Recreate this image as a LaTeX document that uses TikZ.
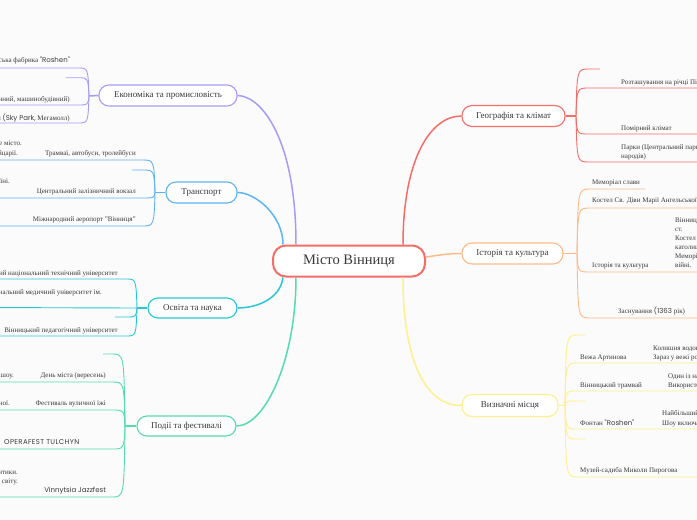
\documentclass[tikz,border=0pt]{standalone}
\usepackage{fontspec}
\setmainfont{Liberation Serif}
\newfontfamily\pop{Poppins}
\definecolor{bg}{HTML}{FBFBFB}
\definecolor{txt}{HTML}{3A3A3A}
\definecolor{cred}{HTML}{F66D68}
\definecolor{cpur}{HTML}{A59CF8}
\definecolor{cblu}{HTML}{5EB4F3}
\definecolor{ccya}{HTML}{27C8D6}
\definecolor{cgrn}{HTML}{55DCAB}
\definecolor{cora}{HTML}{FFBA88}
\definecolor{cyel}{HTML}{FFF08C}
\begin{document}
\begin{tikzpicture}[x=1pt,y=-1pt,
  centerbox/.style={draw=cred,line width=2pt,fill=white,rounded corners=13pt,minimum width=152pt,minimum height=31pt,font=\fontsize{14.5}{16}\selectfont,text=txt},
  branchbox/.style={line width=1.1pt,fill=white,rounded corners=10pt,font=\fontsize{9}{10}\selectfont,text=txt,inner sep=0pt},
  mainline/.style={line width=1.5pt},
  leafline/.style={line width=0.9pt},
  lt/.style={font=\fontsize{7}{8}\selectfont,text=txt,inner sep=0pt},
  ltl/.style={lt,anchor=base east},
  ltr/.style={lt,anchor=base west},
  popt/.style={font=\pop\fontsize{7}{8}\selectfont}]
\clip (0,0) rectangle (697,520);
\fill[bg] (0,0) rectangle (697,520);

% ---------- nodes
\node[centerbox] (c) at (349,261) {Місто Вінниця};
\node[branchbox,draw=cpur,minimum width=138pt,minimum height=21pt] (econ) at (168,95.5) {Економіка та промисловість};
\node[branchbox,draw=cblu,minimum width=71pt,minimum height=21pt] (tran) at (201.5,192.5) {Транспорт};
\node[branchbox,draw=ccya,minimum width=89pt,minimum height=20pt] (edu) at (192.5,308) {Освіта та наука};
\node[branchbox,draw=cgrn,minimum width=99pt,minimum height=20pt] (evt) at (186.5,426) {Події та фестивалі};
\node[branchbox,draw=cred,minimum width=103pt,minimum height=21pt] (geo) at (513.5,116) {Географія та клімат};
\node[branchbox,draw=cora,minimum width=101pt,minimum height=21pt] (his) at (512.5,253.5) {Історія та культура};
\node[branchbox,draw=cyel,minimum width=96pt,minimum height=22pt] (sig) at (510,405.5) {Визначні місця};

% ---------- main connectors
\draw[mainline,cpur] ([xshift=-53pt]c.north) .. controls (296,140) and (262,96) .. (econ.east);
\draw[mainline,cblu] ([xshift=-66pt]c.north) .. controls (283,215) and (255,192.5) .. (tran.east);
\draw[mainline,ccya] ([xshift=-66pt]c.south) .. controls (280,300) and (255,308) .. (edu.east);
\draw[mainline,cgrn] ([xshift=-53pt]c.south) .. controls (296,360) and (265,426) .. (evt.east);
\draw[mainline,cred] ([xshift=54pt]c.north) .. controls (403,160) and (430,116) .. (geo.west);
\draw[mainline,cora] ([yshift=4pt]c.east) .. controls (440,255) and (448,253.5) .. (his.west);
\draw[mainline,cyel] ([xshift=54pt]c.south) .. controls (403,360) and (425,405.5) .. (sig.west);

% ---------- spine joints
\coordinate (ej) at (89,96);
\coordinate (tj) at (155,192.5);
\coordinate (dj) at (137,308);
\coordinate (vj) at (125,426);
\coordinate (gj) at (576,116);
\coordinate (hj) at (577,253.5);
\coordinate (sj) at (565,405.5);
\draw[mainline,cpur] (econ.west) -- (ej);
\draw[mainline,cblu] (tran.west) -- (tj);
\draw[mainline,ccya] (edu.west) -- (dj);
\draw[mainline,cgrn] (evt.west) -- (vj);
\draw[mainline,cred] (geo.east) -- (gj);
\draw[mainline,cora] (his.east) -- (hj);
\draw[mainline,cyel] (sig.east) -- (sj);

% ---------- leaf lines (left)
\foreach \y/\e in {68/-20, 77.7/66, 105/-20, 123/-20}
  \draw[leafline,cpur] (ej) .. controls (88,\y) .. (78,\y) -- (\e,\y);
\foreach \y/\e in {160/-20, 170/132, 198/-20, 226/-20}
  \draw[leafline,cblu] (tj) .. controls (154,\y) .. (142,\y) -- (\e,\y);
\foreach \y/\e in {279/-20, 317/115, 336/-20}
  \draw[leafline,ccya] (dj) .. controls (136,\y) .. (126,\y) -- (\e,\y);
\draw[leafline,ccya] (dj) -- (-20,307.5);
\foreach \y/\e in {354/103, 382/-20, 410/-20, 449/-20, 497/-20}
  \draw[leafline,cgrn] (vj) .. controls (124,\y) .. (112,\y) -- (\e,\y);

% ---------- leaf lines (right)
\foreach \y/\e in {69/600, 88/720, 134/720, 162/720}
  \draw[leafline,cred] (gj) .. controls (577,\y) .. (589,\y) -- (\e,\y);
\foreach \y/\e in {189/645, 208/720, 272/720, 318/720}
  \draw[leafline,cora] (hj) .. controls (578,\y) .. (590,\y) -- (\e,\y);
\foreach \y/\e in {335/585, 363/720, 391/720, 401/585, 429/720, 439/585, 477/720}
  \draw[leafline,cyel] (sj) .. controls (566,\y) .. (578,\y) -- (\e,\y);

% ---------- leaf texts: economy
\node[ltl] (e1) at (70,62) {Вінницька кондитерська фабрика {\pop "Roshen"}};
\node[ltl] (e2) at (70,101) {Промисловість (харчовий, хімічний, машинобудівний)};
\node[ltl] (e3) at (70,120) {Торгові центри {\pop(Sky Park,} Мегамолл)};
% transport
\node[ltl] (t0a) at (22,145) {Трамвайна мережа охоплює все місто.};
\node[ltl] (t0b) at (18,155) {Частина вагонів привезена зі Швейцарії.};
\node[ltl] (t1) at (136,155) {Трамваї, автобуси, тролейбуси};
\node[ltl] (t2a) at (10,183) {Один із найбільших вокзалів в Україні.};
\node[ltl] (t2) at (136,193) {Центральний залізничний вокзал};
\node[ltl] (t3) at (136,221) {Міжнародний аеропорт "Вінниця"};
% education
\node[ltl] (d1) at (118,275) {Вінницький національний технічний університет};
\node[ltl] (d2) at (102,294) {Вінницький національний медичний університет ім.};
\node[ltl] (d3) at (118,332) {Вінницький педагогічний університет};
% events
\node[ltl] (v1a) at (14,377) {Концерти, ярмарки та вечірнє шоу.};
\node[ltl] (v1) at (106,377) {День міста (вересень)};
\node[ltl] (v2a) at (10,405) {Страви української кухні національної.};
\node[ltl] (v2) at (106,405) {Фестиваль вуличної їжі};
\node[ltr,popt] (v3) at (4,444) {\addfontfeature{LetterSpace=5}OPERAFEST TULCHYN};
\node[ltl] (v4a) at (18,474) {Фестиваль джазової музики та романтики.};
\node[ltl] (v4b) at (18,483) {Виступи музикантів з усього світу.};
\node[ltl,popt] (v4) at (106,492) {Vinnytsia Jazzfest};

% geography
\node[ltr] (g1) at (621,84) {Розташування на річці Південний Буг};
\node[ltr] (g2) at (621,130) {Помірний клімат};
\node[ltr] (g3) at (621,149) {Парки (Центральний парк, Парк дружби};
\node[ltr] (g3b) at (621,158) {народів)};
% history
\node[ltr] (h1) at (592,184) {Меморіал слави};
\node[ltr] (h2) at (592,202) {Костел Св. Діви Марії Ангельської};
\node[ltr] (h3) at (592,267) {Історія та культура};
\node[ltr] (h3a) at (675,222) {Вінниця заснована у XIV};
\node[ltr] (h3b) at (675,231) {ст.};
\node[ltr] (h3c) at (675,240) {Костел єзуїтів};
\node[ltr] (h3d) at (675,249) {католицький храм.};
\node[ltr] (h3e) at (675,258) {Меморіал загиблим у};
\node[ltr] (h3f) at (675,267) {війні.};
\node[ltr] (h4) at (618,313) {Заснування {\pop(1363} рік)};
% sights
\node[ltr] (s1) at (580,359) {Вежа Артинова};
\node[ltr] (s1a) at (653,350) {Колишня водонапірна вежа.};
\node[ltr] (s1b) at (653,359) {Зараз у вежі розташований музей.};
\node[ltr] (s2) at (580,387) {Вінницький трамвай};
\node[ltr] (s2a) at (668,378) {Один із найстаріших.};
\node[ltr] (s2b) at (668,387) {Використовує вагони.};
\node[ltr] (s3) at (580,425) {Фонтан {\pop "Roshen"}};
\node[ltr] (s3a) at (662,415) {Найбільший плавучий фонтан.};
\node[ltr] (s3b) at (662,425) {Шоу включає світло і музику.};
\node[ltr] (s4) at (580,472) {Музей-садиба Миколи Пирогова};
\end{tikzpicture}
\end{document}
